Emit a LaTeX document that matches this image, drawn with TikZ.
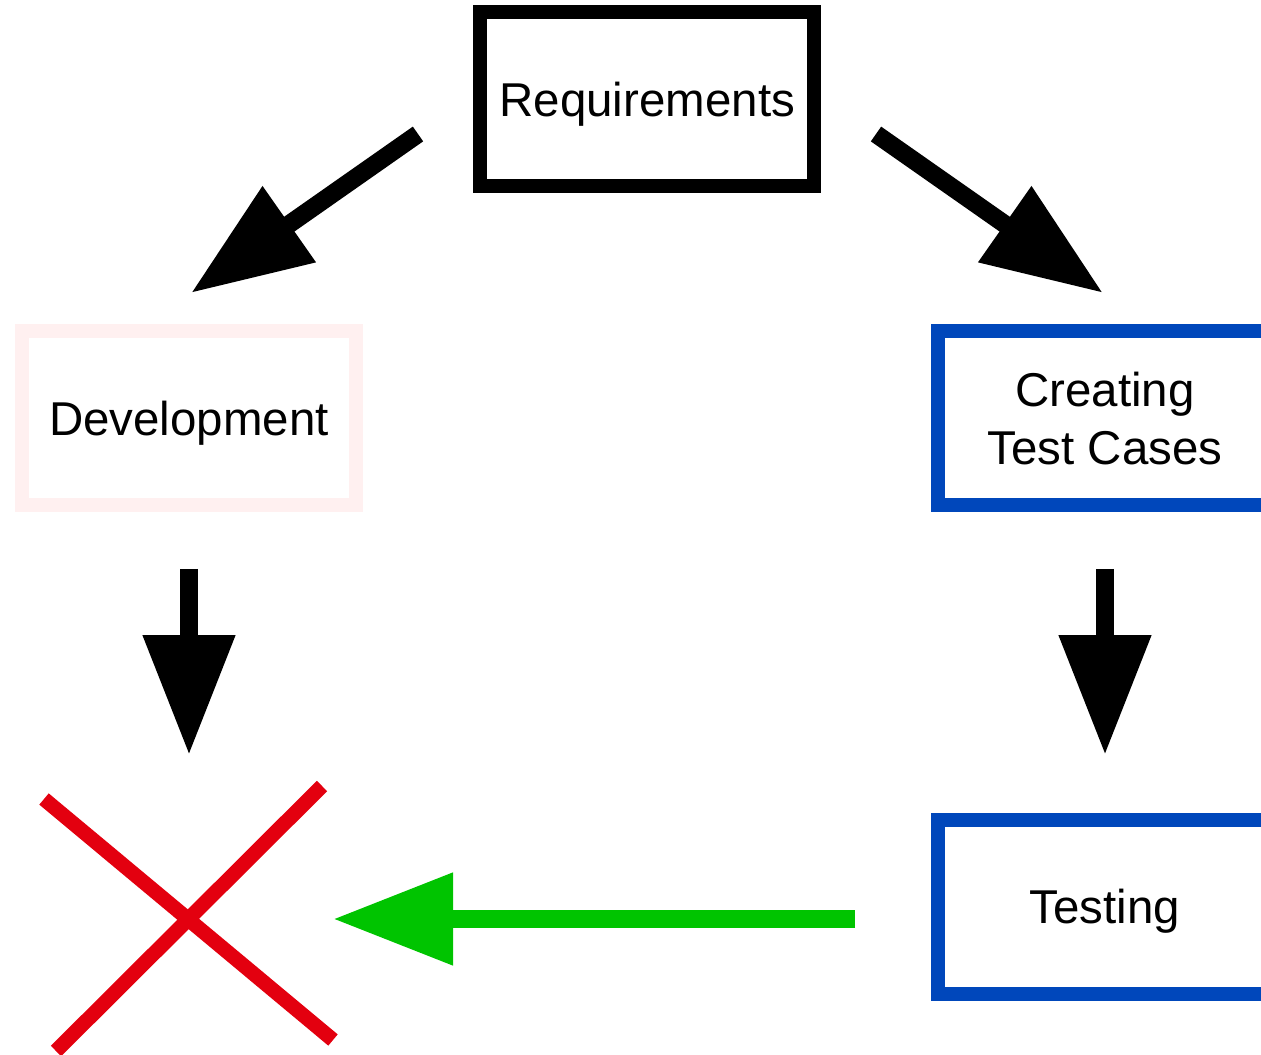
\documentclass[tikz,border=0pt]{standalone}
\usepackage{fontspec}
\setmainfont{Liberation Sans}
\usetikzlibrary{arrows.meta, calc, positioning}
\definecolor{boxblue}{RGB}{0,71,187}
\definecolor{palepink}{RGB}{255,240,240}
\definecolor{arrowgreen}{RGB}{0,196,0}
\definecolor{crossred}{RGB}{227,0,15}

\begin{document}
\begin{tikzpicture}[x=0.75pt,y=-0.75pt,
  stage/.style={draw, line width=10.5pt, rectangle, minimum width=250.5pt, minimum height=130.5pt,
    inner sep=0pt, align=center, font=\fontsize{35.6}{43.5}\selectfont},
  oneline/.style={text depth=0pt},
  flow/.style={line width=13.5pt, -{Triangle[length=90pt,width=66pt]}}]
\useasboundingbox (0,0) rectangle (1261,1055);

% boxes
\node [stage, oneline] (req) at (647.25,99.25) {Requirements};
\node [stage, oneline, draw=palepink] (dev) at (189,418.5) {Development};
\node [stage, draw=boxblue] (tc) at (1105,418.5) {Creating\\Test Cases};
\node [stage, oneline, draw=boxblue] (test) at (1105,906.5) {Testing};

% arrow ends
\coordinate (req_l) at (418,134);
\coordinate (dev_t) at (191,293);
\coordinate (req_r) at (876,134);
\coordinate (tc_t) at (1103,293);
\coordinate (dev_b) at (189,569);
\coordinate (fail_t) at (189,755);
\coordinate (tc_b) at (1105,569);
\coordinate (test_t) at (1105,755);
\coordinate (test_l) at (855,919);
\coordinate (fail_r) at (333,919);

% arrows
\draw [flow] (req_l) -- (dev_t);
\draw [flow] (req_r) -- (tc_t);
\draw [flow] (dev_b) -- (fail_t);
\draw [flow] (tc_b) -- (test_t);
\draw [flow, arrowgreen] (test_l) -- (fail_r);

% red cross
\draw [crossred, line width=11pt] (44,799) -- (333,1040);
\draw [crossred, line width=11pt] (322,786) -- (56,1051);

\end{tikzpicture}
\end{document}
